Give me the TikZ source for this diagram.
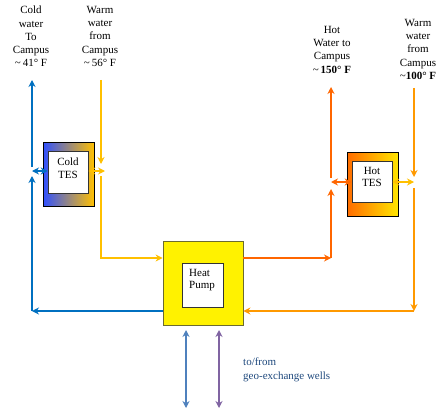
\documentclass[tikz,border=0pt]{standalone}
\usepackage{fontspec}
\setmainfont{Liberation Serif}
\usetikzlibrary{arrows.meta}
\definecolor{cblue}{HTML}{0070C0}
\definecolor{cyel}{HTML}{FFC000}
\definecolor{cred}{HTML}{FF6600}
\definecolor{corg}{HTML}{FF9900}
\definecolor{cgold}{HTML}{FFC000}
\definecolor{gblue}{HTML}{4F81BD}
\definecolor{gpurp}{HTML}{8064A2}
\definecolor{wtext}{HTML}{1F497D}
\definecolor{hpedge}{HTML}{6B6B30}
\definecolor{tesblue}{HTML}{3050FF}
\begin{document}
\begin{tikzpicture}[x=1pt,y=-1pt,
  flow/.style={line width=2.5pt,-{Stealth[length=7pt,width=7pt]}},
  dflow/.style={line width=2.5pt,{Stealth[length=7pt,width=7pt]}-{Stealth[length=7pt,width=7pt]}},
  outerbox/.style={draw=black,line width=0.8pt,inner sep=0pt},
  innerbox/.style={draw=black!80,fill=white,line width=0.6pt,inner sep=0pt},
  lbl/.style={align=center,font=\fontsize{11}{13.2}\selectfont,inner sep=0pt},
  boxtext/.style={align=center,font=\fontsize{11}{12.5}\selectfont,inner sep=0pt}]
\useasboundingbox (0,0) rectangle (441,409);

% Top labels
\node[lbl,anchor=north] (lcold) at (31,6) {Cold\\water\\To\\Campus\\\textasciitilde\,41° F};
\node[lbl,anchor=north] (lwarm1) at (100,6) {Warm\\water\\from\\Campus\\\textasciitilde\,56° F};
\node[lbl,anchor=north] (lhot) at (332,26) {Hot\\Water to\\Campus\\\textasciitilde\,\textbf{150° F}};
\node[lbl,anchor=north] (lwarm2) at (418,19) {Warm\\water\\from\\Campus\\\textasciitilde\textbf{100° F}};

% Cold TES
\node[outerbox,minimum width=51pt,minimum height=64pt,left color=tesblue,right color=cyel] (ctes) at (68.5,174) {};
\node[innerbox,minimum width=40pt,minimum height=42pt] (ctesin) at (68,172) {};
\node[boxtext] (ctest) at (68,168) {Cold\\TES};

% Hot TES
\node[outerbox,minimum width=51pt,minimum height=64pt,left color=orange!85!red,right color=yellow!80!orange] (htes) at (372.5,184) {};
\node[innerbox,minimum width=40pt,minimum height=41pt] (htesin) at (372,181.5) {};
\node[boxtext] (htest) at (372,177) {Hot\\TES};

% Heat pump
\node[draw=hpedge,line width=0.8pt,fill=yellow,minimum width=80pt,minimum height=84pt,inner sep=0pt] (hp) at (203,283) {};
\node[innerbox,minimum width=41pt,minimum height=44pt] (hpin) at (202.5,285) {};
\node[boxtext,align=left,anchor=west] (hpt) at (189,280) {Heat\\Pump};

% coordinates
\coordinate (b1) at (32,311);
\coordinate (b2) at (32,176);
\coordinate (b3) at (32,167);
\coordinate (b4) at (32,80);
\coordinate (bj) at (32,171);
\coordinate (y1) at (101,80);
\coordinate (y2) at (101,164);
\coordinate (y3) at (101,176);
\coordinate (y4) at (101,258);
\coordinate (yj) at (105,171);
\coordinate (r1) at (331,258);
\coordinate (r2) at (331,189);
\coordinate (r3) at (331,178);
\coordinate (r4) at (331,87);
\coordinate (rj) at (331,182);
\coordinate (o1) at (414,88);
\coordinate (o2) at (414,177);
\coordinate (o3) at (414,188);
\coordinate (o4) at (414,311);
\coordinate (oj) at (414,182);
\coordinate (g1) at (186,330);
\coordinate (g2) at (186,408);
\coordinate (p1) at (219,330);
\coordinate (p2) at (219,408);

% Blue (cold supply)
\draw[flow,cblue] (hp.west |- b1) -- (b1);
\draw[flow,cblue] (b1) -- (b2);
\draw[flow,cblue] (b3) -- (b4);
\draw[dflow,cblue] (bj) -- (ctesin.west |- bj);

% Yellow (warm return)
\draw[flow,cyel] (y1) -- (y2);
\draw[flow,cyel] (y3) -- (y4) -- (hp.west |- y4);
\draw[dflow,cyel] (ctesin.east |- yj) -- (yj);

% Red-orange (hot supply)
\draw[flow,cred] (hp.east |- r1) -- (r1);
\draw[flow,cred] (r1) -- (r2);
\draw[flow,cred] (r3) -- (r4);
\draw[dflow,cred] (rj) -- (htesin.west |- rj);

% Orange (warm return hot side)
\draw[flow,corg] (o1) -- (o2);
\draw[flow,corg] (o3) -- (o4);
\draw[flow,corg] (o4) -- (hp.east |- o4);
\draw[dflow,cgold] (htesin.east |- oj) -- (oj);

% Geo-exchange
\draw[dflow,gblue] (g1) -- (g2);
\draw[dflow,gpurp] (p1) -- (p2);
\node[lbl,align=left,anchor=north west,text=wtext] (wells) at (243,358) {to/from\\geo-exchange wells};
\end{tikzpicture}
\end{document}
